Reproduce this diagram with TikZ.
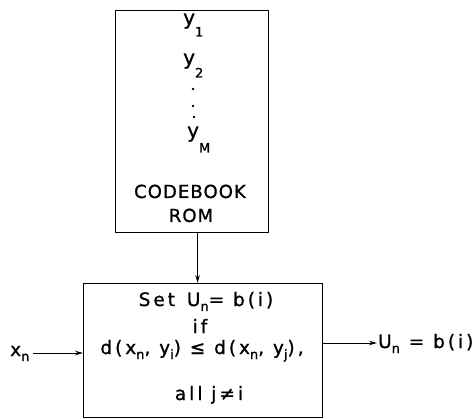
\documentclass[tikz,border=0pt]{standalone}
\usepackage{fontspec}
\setmainfont{DejaVu Sans}[FakeBold=1]
\usetikzlibrary{arrows.meta}
\newcommand\dnsub[2]{\raisebox{-#1}{\fontsize{13}{13}\selectfont #2}}
\begin{document}
\begin{tikzpicture}[x=1pt,y=-1pt,
  box/.style={draw, line width=1.2pt, inner sep=0pt, anchor=north west},
  conn/.style={line width=1pt, -{Stealth[length=8pt,width=4.5pt]}},
  lbl/.style={inner sep=0pt, font=\fontsize{18.5}{20}\selectfont\addfontfeature{LetterSpace=16}},
  rlbl/.style={inner sep=0pt, font=\fontsize{18}{20}\selectfont\addfontfeature{LetterSpace=6}},
  ylbl/.style={inner sep=0pt, anchor=base west, font=\fontsize{20}{20}\selectfont},
  dotm/.style={fill, circle, inner sep=0pt, minimum size=2.8pt}]
\useasboundingbox (0,0) rectangle (476,419);
% boxes
\node[box, minimum width=153pt, minimum height=222pt] (rom) at (115,10) {};
\node[box, minimum width=239pt, minimum height=134pt] (sel) at (83,283) {};
% codebook contents
\node[ylbl] (y1) at (183,24.5) {y\dnsub{12pt}{1}};
\node[ylbl] (y2) at (183,64.5) {y\dnsub{13pt}{2}};
\node[dotm] (d1) at (193,89) {};
\node[dotm] (d2) at (193,106) {};
\node[dotm] (d3) at (194,117) {};
\node[ylbl] (yM) at (187,137.5) {y\dnsub{15pt}{M}};
\node[rlbl, anchor=base] (cb) at (190,198) {CODEBOOK};
\node[rlbl, anchor=base] (rm) at (191,222) {ROM};
% selection rule
\node[lbl, anchor=base] (l1) at (206,306) {Set \,U\dnsub{5pt}{n}= b(i)};
\node[lbl, anchor=base] (l2) at (200,333) {if};
\node[lbl, anchor=base] (l3) at (202,354) {d(x\dnsub{5pt}{n}, y\dnsub{5pt}{i}) ≤ d(x\dnsub{5pt}{n}, y\dnsub{5pt}{j}),};
\node[lbl, anchor=base] (l4) at (209,400) {all j≠i};
% input / output
\node[lbl, anchor=base west] (xn) at (10,356) {x\dnsub{5pt}{n}};
\node[lbl, anchor=base west] (un) at (378,348) {U\dnsub{5pt}{n} = b(i)};
\coordinate (xnr) at (33,353);
\coordinate (unl) at (377,343);
% connectors
\draw[conn] ([xshift=5.5pt]rom.south) -- ([xshift=-5.5pt]sel.north);
\draw[conn] (xnr) -- (xnr -| sel.west);
\draw[conn] (unl -| sel.east) -- (unl);
\end{tikzpicture}
\end{document}
